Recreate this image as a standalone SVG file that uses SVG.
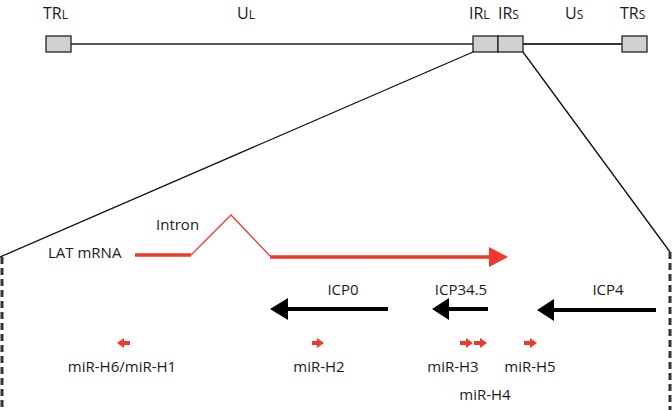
<svg xmlns="http://www.w3.org/2000/svg" width="672" height="410" viewBox="0 0 672 410">
<style>
.t{font-family:"Open Sans","Liberation Sans",sans-serif;font-size:15px;fill:#1a1a1a}
.h{font-family:"Open Sans","Liberation Sans",sans-serif;font-size:16px;fill:#1a1a1a}
.s{font-size:12px}
.box{fill:#d0d0d0;stroke:#222;stroke-width:1.3}
.red{fill:#ee3a2c}
</style>
<rect width="672" height="410" fill="#fff"/>
<g id="genome">
<line x1="71" y1="44" x2="473" y2="44" stroke="#222" stroke-width="1.3"/>
<line x1="523" y1="44" x2="622" y2="44" stroke="#333" stroke-width="2"/>
<rect id="TRL" class="box" x="46" y="36" width="25" height="16"/>
<rect id="IRL" class="box" x="473" y="36" width="25" height="16"/>
<rect id="IRS" class="box" x="498" y="36" width="25" height="16"/>
<rect id="TRS" class="box" x="622" y="36" width="25" height="16"/>
<text class="h" x="43" y="18.5">TR<tspan class="s">L</tspan></text>
<text class="h" x="237" y="18.5">U<tspan class="s">L</tspan></text>
<text class="h" x="469" y="18.5">IR<tspan class="s">L</tspan></text>
<text class="h" x="498" y="18.5">IR<tspan class="s">S</tspan></text>
<text class="h" x="565" y="18.5">U<tspan class="s">S</tspan></text>
<text class="h" x="620" y="18.5">TR<tspan class="s">S</tspan></text>
</g>
<g id="connectors">
<line x1="473" y1="52" x2="0" y2="257" stroke="#111" stroke-width="1.3"/>
<line x1="523" y1="52" x2="670" y2="252" stroke="#111" stroke-width="1.3"/>
<line x1="2" y1="257" x2="2" y2="410" stroke="#333" stroke-width="3" stroke-dasharray="7 4"/>
<line x1="670" y1="252" x2="670" y2="410" stroke="#333" stroke-width="3" stroke-dasharray="7 4"/>
</g>
<g id="LAT">
<line x1="135" y1="255" x2="191" y2="255" stroke="#ee3a2c" stroke-width="3.5"/>
<polyline points="191,255 231,215 270,256" fill="none" stroke="#ee3a2c" stroke-width="1.3"/>
<line x1="270" y1="257" x2="492" y2="257" stroke="#ee3a2c" stroke-width="3.5"/>
<polygon class="red" points="489,247 508,257 489,267"/>
<text class="t" x="48" y="258">LAT mRNA</text>
<text class="t" x="156" y="230">Intron</text>
</g>
<g id="ICP0">
<line x1="286" y1="309" x2="388" y2="309" stroke="#000" stroke-width="4"/>
<polygon points="270,309 288,298 288,320" fill="#000"/>
<text class="t" x="343" y="295" text-anchor="middle">ICP0</text>
</g>
<g id="ICP34.5">
<line x1="447" y1="309" x2="488" y2="309" stroke="#000" stroke-width="4"/>
<polygon points="432,309 449,298 449,320" fill="#000"/>
<text class="t" x="461" y="295" text-anchor="middle">ICP34.5</text>
</g>
<g id="ICP4">
<line x1="552" y1="310" x2="656" y2="310" stroke="#000" stroke-width="4"/>
<polygon points="537,310 554,299 554,321" fill="#000"/>
<text class="t" x="608" y="295" text-anchor="middle">ICP4</text>
</g>
<g id="miR-H6-H1">
<polygon class="red" points="117,343 124,338 124,341 130,341 130,345 124,345 124,348"/>
<text class="t" x="122" y="372" text-anchor="middle">miR-H6/miR-H1</text>
</g>
<g id="miR-H2">
<polygon class="red" points="324,343 317,338 317,341 312,341 312,345 317,345 317,348"/>
<text class="t" x="319" y="372" text-anchor="middle">miR-H2</text>
</g>
<g id="miR-H3">
<polygon class="red" points="473,343 466,338 466,341 460,341 460,345 466,345 466,348"/>
<text class="t" x="453" y="372" text-anchor="middle">miR-H3</text>
</g>
<g id="miR-H4">
<polygon class="red" points="487,343 480,338 480,341 474,341 474,345 480,345 480,348"/>
<text class="t" x="485" y="400" text-anchor="middle">miR-H4</text>
</g>
<g id="miR-H5">
<polygon class="red" points="537,343 530,338 530,341 524,341 524,345 530,345 530,348"/>
<text class="t" x="530" y="372" text-anchor="middle">miR-H5</text>
</g>
</svg>
